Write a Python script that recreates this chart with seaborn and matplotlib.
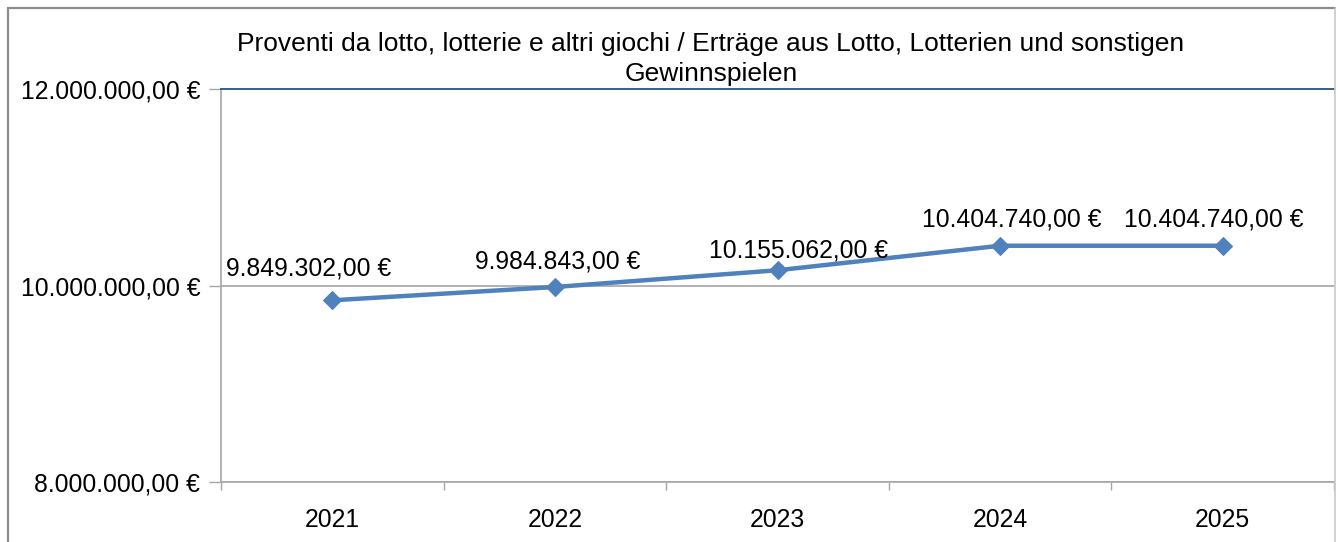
import matplotlib
matplotlib.use("Agg")
import matplotlib.pyplot as plt
import matplotlib.ticker as mticker
from matplotlib.lines import Line2D
import pandas as pd
import seaborn as sns

years = ["2021", "2022", "2023", "2024", "2025"]
values = [9849302.00, 9984843.00, 10155062.00, 10404740.00, 10404740.00]
y_ticks = [8000000, 10000000, 12000000]
title = ("Proventi da lotto, lotterie e altri giochi / Erträge aus Lotto, Lotterien und sonstigen\n"
         "Gewinnspielen")

# label offsets in pixels (dx, dy) from each point, as placed in the original chart
label_offsets = [(-24, 25), (3, 18), (21, 13), (12, 19), (-9, 19)]

LINE_COLOR = "#4F81BD"
GRID_COLOR = "#A6A6A6"
FONT = 17.8
TITLE_FONT = 19


def eur(v):
    s = f"{v:,.2f}".replace(",", "X").replace(".", ",").replace("X", ".")
    return s + " €"


sns.set_style("white")
plt.rcParams["font.family"] = ["Liberation Sans", "DejaVu Sans"]
plt.rcParams["text.color"] = "black"
plt.rcParams["xtick.labelcolor"] = "black"
plt.rcParams["ytick.labelcolor"] = "black"

W, H = 1338, 542
fig = plt.figure(figsize=(W / 100, H / 100), dpi=100)
ax = fig.add_axes([221 / W, 60 / H, (1334 - 221) / W, (482 - 89) / H])

df = pd.DataFrame({"x": range(len(years)), "value": values})
sns.lineplot(data=df, x="x", y="value", ax=ax, color=LINE_COLOR, linewidth=3.2,
             marker="D", markersize=9.5, markeredgecolor=LINE_COLOR, zorder=3)

ax.set_xlim(-0.5, len(years) - 0.5)
ax.set_ylim(y_ticks[0], y_ticks[-1])
ax.set_xlabel("")
ax.set_ylabel("")

# y axis
ax.yaxis.set_major_locator(mticker.FixedLocator(y_ticks))
ax.yaxis.set_major_formatter(mticker.FuncFormatter(lambda v, p: eur(v)))
ax.tick_params(axis="y", which="major", direction="out", length=9, width=1,
               color=GRID_COLOR, pad=6, labelsize=FONT, labelcolor="black", left=True)
ax.grid(axis="y", color=GRID_COLOR, linewidth=1.2)
ax.grid(axis="x", visible=False)

# x axis: ticks between categories, labels at the centres
ax.xaxis.set_major_locator(mticker.FixedLocator([i - 0.5 for i in range(len(years) + 1)]))
ax.xaxis.set_major_formatter(mticker.NullFormatter())
ax.xaxis.set_minor_locator(mticker.FixedLocator(range(len(years))))
ax.xaxis.set_minor_formatter(mticker.FixedFormatter(years))
ax.tick_params(axis="x", which="major", direction="out", length=6, width=1,
               color=GRID_COLOR, bottom=True)
ax.tick_params(axis="x", which="minor", length=0, labelsize=FONT, pad=19, labelcolor="black")

for side in ["left", "bottom"]:
    ax.spines[side].set_color(GRID_COLOR)
    ax.spines[side].set_linewidth(1.2)
ax.spines["top"].set_color("#385D8A")
ax.spines["top"].set_linewidth(1.4)
ax.spines["right"].set_visible(False)

for i, v in enumerate(values):
    dx, dy = label_offsets[i]
    ax.annotate(eur(v), xy=(i, v), xytext=(dx * 0.72, dy * 0.72),
                textcoords="offset points", ha="center", va="baseline",
                fontsize=FONT, color="black", zorder=4)

fig.text(711 / W, 1 - 59 / H, title, ha="center", va="center",
         fontsize=TITLE_FONT, linespacing=1.3, color="black")

# outer chart border
bc = "#8C8C8C"
fig.add_artist(Line2D([7.5 / W, 7.5 / W], [0, 1 - 8 / H], transform=fig.transFigure, color=bc, lw=1.6))
fig.add_artist(Line2D([7.5 / W, 1335 / W], [1 - 8 / H, 1 - 8 / H], transform=fig.transFigure, color=bc, lw=1.6))
fig.add_artist(Line2D([1335 / W, 1335 / W], [0, 1 - 8 / H], transform=fig.transFigure, color="#C8C8C8", lw=1.2))

fig.savefig("out.png", dpi=100)
